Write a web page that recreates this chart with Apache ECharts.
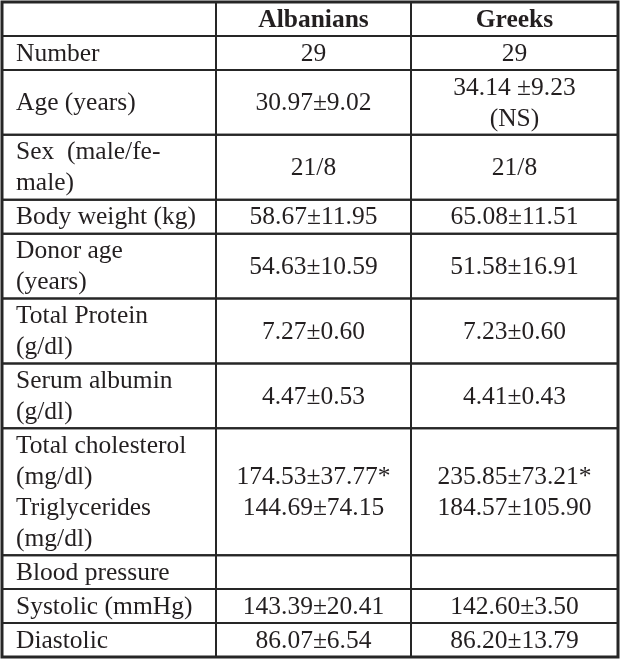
<!DOCTYPE html>
<html>
<head>
<meta charset="utf-8">
<script src="https://cdn.jsdelivr.net/npm/echarts@6/dist/echarts.min.js"></script>
<style>
  html, body { margin: 0; padding: 0; background: #fff; }
  #chart { width: 620px; height: 659px; }
</style>
</head>
<body>
<div id="chart"></div>
<script>
// table content
const headers = ['', 'Albanians', 'Greeks'];
const rowLabels = [
  'Number',
  'Age (years)',
  'Sex  (male/fe-\nmale)',
  'Body weight (kg)',
  'Donor age\n(years)',
  'Total Protein\n(g/dl)',
  'Serum albumin\n(g/dl)',
  'Total cholesterol\n(mg/dl)\nTriglycerides\n(mg/dl)',
  'Blood pressure',
  'Systolic (mmHg)',
  'Diastolic'
];
const albanians = [
  '29', '30.97±9.02', '21/8', '58.67±11.95', '54.63±10.59', '7.27±0.60',
  '4.47±0.53', '174.53±37.77*\n144.69±74.15', '', '143.39±20.41', '86.07±6.54'
];
const greeks = [
  '29', '34.14 ±9.23\n(NS)', '21/8', '65.08±11.51', '51.58±16.91', '7.23±0.60',
  '4.41±0.43', '235.85±73.21*\n184.57±105.90', '', '142.60±3.50', '86.20±13.79'
];

// layout
const colEdges = [0, 214, 409, 616];
const lineH = 31;
const rowPad = 3;

const rows = [headers].concat(rowLabels.map((l, i) => [l, albanians[i], greeks[i]]));
const rowEdges = [0];
rows.forEach(r => {
  const n = Math.max(...r.map(t => t.split('\n').length));
  rowEdges.push(rowEdges[rowEdges.length - 1] + rowPad + n * lineH);
});
const totalH = rowEdges[rowEdges.length - 1];

const cells = [];
rows.forEach((r, ri) => r.forEach((t, ci) => cells.push([ci, ri])));

const chart = echarts.init(document.getElementById('chart'));
chart.setOption({
  animation: false,
  grid: { left: 2, right: 2, top: 2, bottom: 2, show: true, borderColor: '#262626', borderWidth: 3, backgroundColor: '#fff' },
  xAxis: { type: 'value', min: 0, max: colEdges[3], show: false },
  yAxis: { type: 'value', min: 0, max: totalH, inverse: true, show: false },
  series: [{
    type: 'custom',
    data: cells,
    renderItem: function (params, api) {
      const ci = api.value(0), ri = api.value(1);
      const p0 = api.coord([colEdges[ci], rowEdges[ri]]);
      const p1 = api.coord([colEdges[ci + 1], rowEdges[ri + 1]]);
      const text = rows[ri][ci];
      const left = ci === 0;
      return {
        type: 'group',
        children: [{
          type: 'rect',
          shape: { x: p0[0], y: p0[1], width: p1[0] - p0[0], height: p1[1] - p0[1] },
          style: { fill: 'none', stroke: '#262626', lineWidth: 2 }
        }, {
          type: 'text',
          x: left ? p0[0] + 14 : (p0[0] + p1[0]) / 2,
          y: (p0[1] + p1[1]) / 2 + 1,
          style: {
            text: text,
            fill: '#231f20',
            font: (ri === 0 ? 'bold ' : '') + '25.5px "Liberation Serif", serif',
            align: left ? 'left' : 'center',
            verticalAlign: 'middle',
            lineHeight: lineH
          }
        }]
      };
    }
  }]
});
</script>
</body>
</html>
